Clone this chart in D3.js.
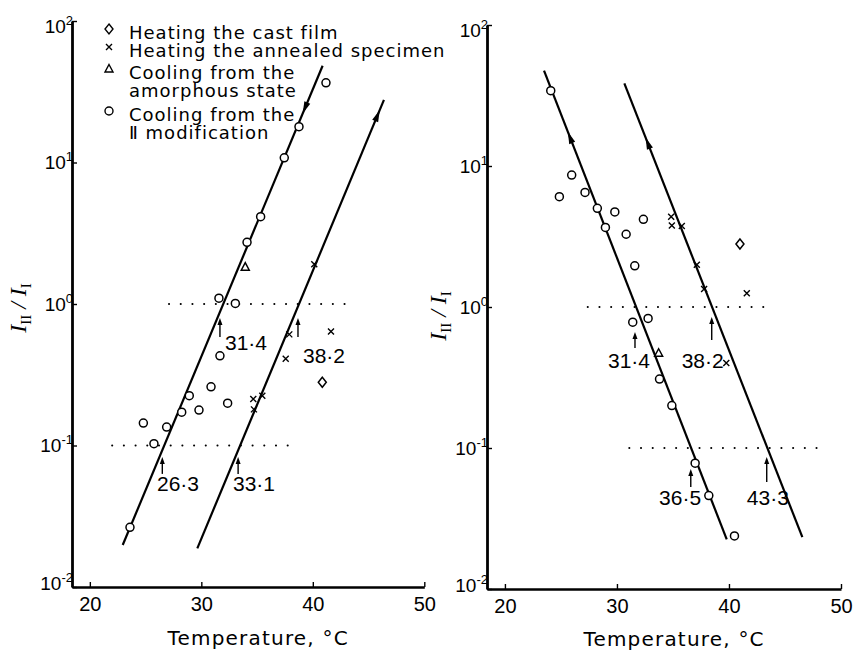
<!DOCTYPE html>
<html>
<head>
<meta charset="utf-8">
<script src="https://d3js.org/d3.v7.min.js"></script>
<style>
  body { margin: 0; background: #fff; }
  svg { display: block; }
  .legend text { font-family: "DejaVu Sans", sans-serif; font-size: 18px; letter-spacing: 1px; }
  .ann { font-family: "Liberation Sans", sans-serif; font-size: 21px; }
  .tick-lbl { font-family: "Liberation Sans", sans-serif; font-size: 19px; }
  .xtitle { font-family: "DejaVu Sans", sans-serif; font-size: 20px; letter-spacing: 1.2px; }
  .ytitle { font-family: "Liberation Serif", serif; font-style: italic; font-size: 24px; }
</style>
</head>
<body>
<div id="chart"></div>
<script>
// ---------- data (temperature in °C, ratio I_II / I_I) ----------
var tempTicks = [20, 30, 40, 50];
var decadeExps = [-2, -1, 0, 1, 2];
var tempDomain = [18.4, 50];
var ratioDomain = [0.01, 100];

var legendLabels = [
  ["Heating the cast film"],
  ["Heating the annealed specimen"],
  ["Cooling from the", "amorphous state"],
  ["Cooling from the", "\u2161 modification"]
];
var legendSymbols = ["diamond", "cross", "triangle", "circle"];

// left panel
var leftCastFilm = [[40.85, 0.28]];
var leftAnnealed = [[34.72, 0.18], [34.66, 0.213], [35.47, 0.225], [37.57, 0.41],
                    [37.89, 0.61], [41.63, 0.64], [40.13, 1.91]];
var leftAmorphous = [[33.94, 1.82]];
var leftModII = [[23.6, 0.0264], [24.8, 0.144], [25.75, 0.103], [26.89, 0.135],
                 [28.24, 0.172], [28.92, 0.225], [29.79, 0.178], [30.87, 0.26],
                 [31.67, 0.43], [32.36, 0.199], [31.58, 1.10], [33.05, 1.01],
                 [34.1, 2.73], [35.32, 4.14], [37.44, 10.8], [38.76, 17.9], [41.18, 36.6]];
// dir: 1 = arrow points up the line, -1 = down
var leftFits = [
  {from: [22.95, 0.0198], to: [40.88, 48.3], arrowT: 39.3, dir: -1},
  {from: [29.64, 0.01875], to: [46.38, 27.7], arrowT: 45.8, dir: 1}
];
var leftLevels = [{v: 1, t0: 27.1, t1: 43.2}, {v: 0.1, t0: 22.0, t1: 38.7}];
var leftMarks = [
  {text: "31\u00b74", t: 31.67, tip: 0.796, tail: 0.585, lt: 32.12, lv: 0.473},
  {text: "38\u00b72", t: 38.67, tip: 0.796, tail: 0.585, lt: 39.12, lv: 0.383},
  {text: "26\u00b73", t: 26.5, tip: 0.083, tail: 0.063, lt: 26.02, lv: 0.0476},
  {text: "33\u00b71", t: 33.3, tip: 0.083, tail: 0.063, lt: 32.84, lv: 0.0476}
];

// right panel
var rightCastFilm = [[40.98, 2.8]];
var rightAnnealed = [[34.84, 4.36], [34.9, 3.79], [35.79, 3.75], [37.13, 1.99],
                     [37.78, 1.34], [41.59, 1.25], [39.76, 0.40]];
var rightAmorphous = [[33.72, 0.47]];
var rightModII = [[24.09, 34.2], [24.86, 6.06], [25.96, 8.63], [27.15, 6.5],
                  [28.25, 5.01], [28.97, 3.67], [29.81, 4.72], [30.82, 3.28],
                  [31.59, 1.96], [32.36, 4.19], [31.41, 0.78], [32.78, 0.83],
                  [33.8, 0.308], [34.9, 0.20], [36.98, 0.078], [38.2, 0.046], [40.49, 0.0238]];
var rightFits = [
  {from: [23.49, 47.4], to: [39.8, 0.0225], arrowT: 25.81, dir: 1},
  {from: [30.66, 38.6], to: [46.55, 0.0233], arrowT: 32.75, dir: 1}
];
var rightLevels = [{v: 1, t0: 27.39, t1: 43.07}, {v: 0.1, t0: 31.1, t1: 48.13}];
var rightMarks = [
  {text: "31\u00b74", t: 31.61, tip: 0.665, tail: 0.512, lt: 29.2, lv: 0.369},
  {text: "38\u00b72", t: 38.46, tip: 0.849, tail: 0.583, lt: 35.78, lv: 0.369},
  {text: "36\u00b75", t: 36.59, tip: 0.071, tail: 0.0529, lt: 33.76, lv: 0.0394},
  {text: "43\u00b73", t: 43.37, tip: 0.0863, tail: 0.0574, lt: 41.59, lv: 0.0394}
];

// ---------- drawing ----------
var W = 854, H = 655;
var svg = d3.select("#chart").append("svg").attr("width", W).attr("height", H);

var symbolPath = {
  circle: "M-4,0A4,4 0 1,0 4,0A4,4 0 1,0 -4,0Z",
  diamond: "M0,-5L4,0L0,5L-4,0Z",
  triangle: "M0,-4.5L4,3L-4,3Z",
  cross: "M-3,-3L3,3M3,-3L-3,3"
};

function drawMarkers(g, pts, kind, x, y) {
  g.selectAll(null).data(pts).enter().append("path")
    .attr("transform", function(d) { return "translate(" + x(d[0]) + "," + y(d[1]) + ")"; })
    .attr("d", symbolPath[kind])
    .attr("fill", kind == "cross" ? "none" : "#fff")
    .attr("stroke", "#000")
    .attr("stroke-width", kind == "cross" ? 1.4 : 1.5);
}

function drawPanel(p) {
  var x = d3.scaleLinear().domain(tempDomain).range(p.xRange);
  var y = d3.scaleLog().domain(ratioDomain).range(p.yRange);
  var g = svg.append("g");

  // dotted reference levels
  g.selectAll(null).data(p.levels).enter().append("line")
    .attr("x1", function(d) { return x(d.t0); })
    .attr("x2", function(d) { return x(d.t1); })
    .attr("y1", function(d) { return y(d.v); })
    .attr("y2", function(d) { return y(d.v); })
    .attr("stroke", "#000").attr("stroke-width", 2)
    .attr("stroke-linecap", "round")
    .attr("stroke-dasharray", "0.1 11.6");

  // fitted lines
  g.selectAll(null).data(p.fits).enter().append("line")
    .attr("x1", function(d) { return x(d.from[0]); })
    .attr("y1", function(d) { return y(d.from[1]); })
    .attr("x2", function(d) { return x(d.to[0]); })
    .attr("y2", function(d) { return y(d.to[1]); })
    .attr("stroke", "#000").attr("stroke-width", 2.2);

  // arrowheads on fitted lines
  p.fits.forEach(function(f) {
    var x0 = x(f.from[0]), y0 = y(f.from[1]), x1 = x(f.to[0]), y1 = y(f.to[1]);
    var s = (f.arrowT - f.from[0]) / (f.to[0] - f.from[0]);
    var cx = x0 + s * (x1 - x0), cy = y0 + s * (y1 - y0);
    var ang = Math.atan2(y1 - y0, x1 - x0) * 180 / Math.PI;
    var upward = (y1 < y0);
    if ((f.dir == 1) != upward) ang += 180;
    g.append("path")
      .attr("transform", "translate(" + cx + "," + cy + ") rotate(" + ang + ")")
      .attr("d", "M6,0L-6,-3.2L-6,3.2Z")
      .attr("fill", "#000");
  });

  // markers
  drawMarkers(g, p.castFilm, "diamond", x, y);
  drawMarkers(g, p.annealed, "cross", x, y);
  drawMarkers(g, p.amorphous, "triangle", x, y);
  drawMarkers(g, p.modII, "circle", x, y);

  // small arrows and transition temperatures
  p.marks.forEach(function(m) {
    var ax = x(m.t), yt = y(m.tip), yb = y(m.tail);
    g.append("line").attr("x1", ax).attr("x2", ax).attr("y1", yb).attr("y2", yt + 5)
      .attr("stroke", "#000").attr("stroke-width", 1.4);
    g.append("path")
      .attr("d", "M" + ax + "," + yt + "L" + (ax - 2.5) + "," + (yt + 7) + "L" + (ax + 2.5) + "," + (yt + 7) + "Z")
      .attr("fill", "#000");
    g.append("text").attr("class", "ann")
      .attr("x", x(m.lt)).attr("y", y(m.lv))
      .text(m.text);
  });

  // axes
  var xAxis = d3.axisBottom(x).tickValues(tempTicks).tickSize(-5).tickSizeOuter(0).tickPadding(10);
  var gx = g.append("g").attr("transform", "translate(0," + p.yRange[0] + ")").call(xAxis);
  gx.select(".domain").attr("stroke-width", 2.6);
  gx.selectAll(".tick line").attr("stroke-width", 1.4);
  gx.selectAll(".tick text").attr("font-family", "Liberation Sans, sans-serif").attr("font-size", 20).attr("fill", "#000");

  var decades = decadeExps.map(function(e) { return Math.pow(10, e); });
  var yAxis = d3.axisLeft(y).tickValues(decades).tickSize(-5).tickSizeOuter(0).tickFormat("");
  var gy = g.append("g").attr("transform", "translate(" + p.xRange[0] + ",0)").call(yAxis);
  gy.select(".domain").attr("stroke-width", 2.8);
  gy.selectAll(".tick line").attr("stroke-width", 1.4);

  decadeExps.forEach(function(e) {
    // end labels sit a little inside the axis span, as in the original
    var nudge = e == 2 ? 5 : (e == -2 ? -4 : 0);
    var t = g.append("text").attr("class", "tick-lbl")
      .attr("x", p.xRange[0] + 1).attr("y", y(Math.pow(10, e)) + 6.5 + nudge)
      .attr("text-anchor", "end");
    t.append("tspan").text("10");
    t.append("tspan").attr("dy", -8).attr("font-size", 13).text(e);
  });

  // axis titles
  g.append("text").attr("class", "xtitle")
    .attr("x", x(35.1)).attr("y", p.xTitleY)
    .attr("text-anchor", "middle")
    .text("Temperature, \u00b0C");

  var yt = g.append("text").attr("class", "ytitle")
    .attr("transform", "translate(" + p.yTitleX + "," + p.yTitleY + ") rotate(-90)")
    .attr("text-anchor", "middle");
  yt.append("tspan").text("I");
  yt.append("tspan").attr("dy", 5).attr("font-size", 15).attr("font-style", "normal").text("II");
  yt.append("tspan").attr("dy", -5).text(" / I");
  yt.append("tspan").attr("dy", 5).attr("font-size", 15).attr("font-style", "normal").text("I");
}

drawPanel({
  xRange: [72, 424.3], yRange: [587, 21],
  castFilm: leftCastFilm, annealed: leftAnnealed, amorphous: leftAmorphous, modII: leftModII,
  fits: leftFits, levels: leftLevels, marks: leftMarks,
  xTitleY: 645, yTitleX: 26, yTitleY: 308
});
drawPanel({
  xRange: [487, 841], yRange: [589, 25],
  castFilm: rightCastFilm, annealed: rightAnnealed, amorphous: rightAmorphous, modII: rightModII,
  fits: rightFits, levels: rightLevels, marks: rightMarks,
  xTitleY: 646, yTitleX: 446, yTitleY: 316
});

// legend (left panel)
var legend = svg.append("g").attr("class", "legend");
var entryGap = [0, 4, 6];
var rowY = 39;
legendLabels.forEach(function(lines, i) {
  legend.append("path")
    .attr("transform", "translate(109," + (rowY - 10) + ")")
    .attr("d", symbolPath[legendSymbols[i]])
    .attr("fill", legendSymbols[i] == "cross" ? "none" : "#fff")
    .attr("stroke", "#000").attr("stroke-width", 1.4);
  lines.forEach(function(s, j) {
    legend.append("text").attr("x", 129).attr("y", rowY + j * 18).text(s);
  });
  rowY += lines.length * 18 + (entryGap[i] || 0);
});
</script>
</body>
</html>
